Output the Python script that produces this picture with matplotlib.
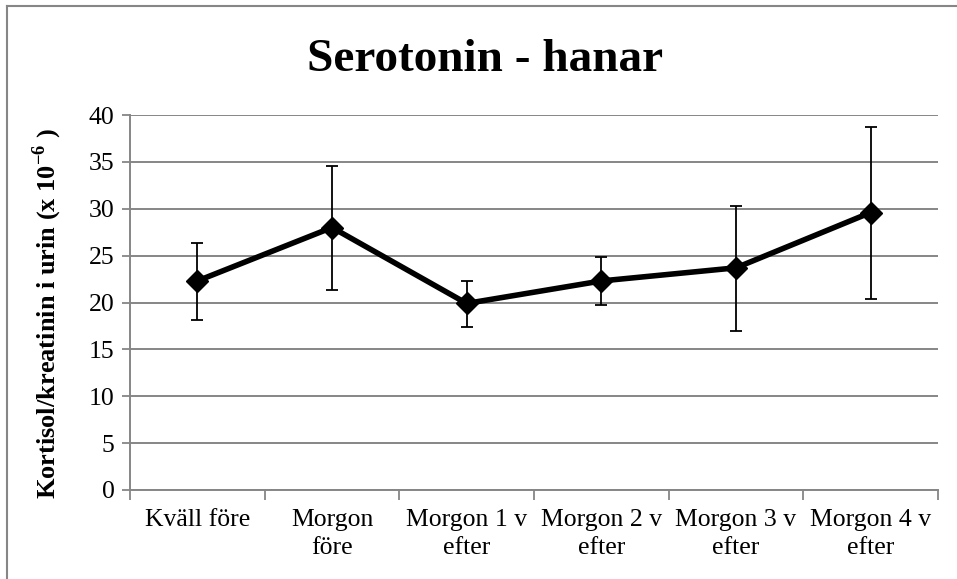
import matplotlib.pyplot as plt
from matplotlib.lines import Line2D

# data
categories = ["Kväll före", "Morgon\nföre", "Morgon 1 v\nefter", "Morgon 2 v\nefter",
              "Morgon 3 v\nefter", "Morgon 4 v\nefter"]
means = [22.3, 28.0, 19.9, 22.3, 23.7, 29.6]
err_low = [18.1, 21.3, 17.4, 19.7, 17.0, 20.4]
err_high = [26.4, 34.6, 22.3, 24.85, 30.3, 38.7]

plt.rcParams['font.family'] = ['Liberation Serif', 'DejaVu Serif']
plt.rcParams['mathtext.fontset'] = 'custom'
plt.rcParams['mathtext.rm'] = 'Liberation Serif'
plt.rcParams['mathtext.bf'] = 'Liberation Serif:bold'

W, H = 957, 579
fig = plt.figure(figsize=(W / 100, H / 100), dpi=100)
ax = fig.add_axes([130 / W, 1 - 490 / H, 808 / W, 375 / H])

grid_color = '#868686'
x = list(range(len(categories)))
yerr = [[m - lo for m, lo in zip(means, err_low)],
        [hi - m for m, hi in zip(means, err_high)]]

ax.errorbar(x, means, yerr=yerr, fmt='none', ecolor='black', elinewidth=1.3,
            capsize=4, capthick=1.3, zorder=3)
ax.plot(x, means, color='black', linewidth=4, marker='D', markersize=11,
        zorder=4)

ax.set_xlim(-0.5, len(categories) - 0.5)
ax.set_ylim(0, 40)
ax.set_yticks(range(0, 41, 5))
ax.yaxis.grid(True, color=grid_color, linewidth=1.4)
ax.set_axisbelow(True)

ax.set_xticks([i - 0.5 for i in range(len(categories) + 1)])
ax.set_xticklabels([])
ax.set_xticks(x, minor=True)
ax.set_xticklabels(categories, minor=True, fontsize=18.5, linespacing=1.35)
ax.tick_params(axis='x', which='major', length=7, width=1.3, color=grid_color, direction='out')
ax.tick_params(axis='x', which='minor', length=0, pad=14)
ax.tick_params(axis='y', length=6, width=1.3, color=grid_color, labelsize=18.5, pad=5)

for side in ['top', 'right']:
    ax.spines[side].set_visible(False)
for side in ['left', 'bottom']:
    ax.spines[side].set_color(grid_color)
    ax.spines[side].set_linewidth(1.4)

ax.set_ylabel(r'Kortisol/kreatinin i urin (x 10$^{\mathbf{-6}}$ )', fontsize=19,
              fontweight='bold', va='center')
ax.yaxis.set_label_coords((47 - 130) / 808, (490 - 313) / 375)
fig.text(485 / W, 1 - 60 / H, 'Serotonin - hanar', ha='center', va='center',
         fontsize=34, fontweight='bold')

# chart frame (left and top edges visible)
fig.add_artist(Line2D([7.5 / W, 7.5 / W], [0, 1 - 6 / H], transform=fig.transFigure,
                      color=grid_color, linewidth=1.5))
fig.add_artist(Line2D([7.5 / W, 1], [1 - 6 / H, 1 - 6 / H], transform=fig.transFigure,
                      color=grid_color, linewidth=1.5))

fig.savefig('out.png', dpi=100)
